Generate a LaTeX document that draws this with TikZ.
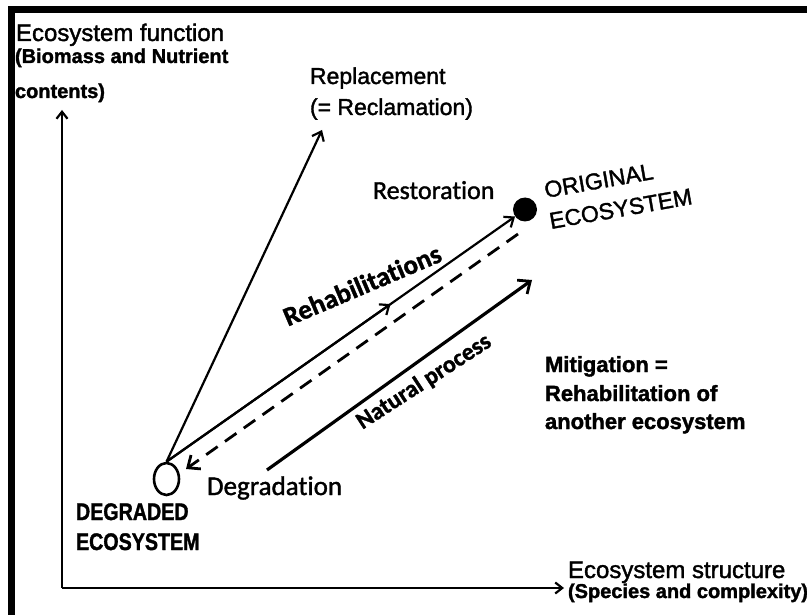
\documentclass[tikz,border=0pt]{standalone}
\usepackage{fontspec}
\setmainfont{Liberation Sans}[FakeBold=1.6]
\newfontfamily\calibrifont{Carlito}[FakeBold=1.4, Ligatures=NoCommon]
\newfontfamily\narrowfont{Liberation Sans}[FakeStretch=0.82, FakeBold=1.4]
\usetikzlibrary{arrows.meta,shapes.geometric,calc}

\newcommand{\fsz}[1]{\fontsize{#1}{#1}\selectfont}

\tikzset{
  lbl/.style={inner sep=0pt, outer sep=0pt, text=black},
  axisline/.style={line width=2.6pt, -{Straight Barb[length=7pt,width=11pt,line width=2.2pt]}},
  thinarrow/.style={line width=2.2pt, -{Straight Barb[length=8pt,width=13pt,line width=2.2pt]}},
  thickarrow/.style={line width=3.2pt, -{Straight Barb[length=10pt,width=17pt,line width=2.8pt]}},
  dasharrow/.style={line width=2.8pt, dash pattern=on 14pt off 9pt,
    -{Straight Barb[length=10pt,width=17pt,line width=2.8pt]}},
  stateopen/.style={ellipse, draw, line width=2.6pt, inner sep=0pt,
    minimum width=25pt, minimum height=32pt},
  statefull/.style={circle, fill=black, inner sep=0pt, minimum size=24pt},
}

\begin{document}
\begin{tikzpicture}[x=1pt,y=-1pt]
\useasboundingbox (0,0) rectangle (807,615);

% frame
\draw[line width=7pt, line join=miter] (11.5,620) -- (11.5,9.5) -- (812,9.5);

% axes
\coordinate (origin) at (62,588);
\coordinate (ytip) at (62,110);
\coordinate (xtip) at (564,588);
\draw[axisline] (origin) -- (ytip);
\draw[axisline] (origin) -- (xtip);

% axis titles
\node[lbl, anchor=base west, font=\fsz{24}] (ytitle) at (16,41) {Ecosystem function};
\node[lbl, anchor=base west, font=\bfseries\fsz{20}] (ysub1) at (15,63) {(Biomass and Nutrient};
\node[lbl, anchor=base west, font=\bfseries\fsz{20}] (ysub2) at (15,98) {contents)};
\node[lbl, anchor=base west, font=\fsz{24}] (xtitle) at (568,578) {Ecosystem structure};
\node[lbl, anchor=base west, font=\bfseries\fsz{20}] (xsub) at (568,598) {(Species and complexity)};

% states
\node[stateopen] (deg) at (166.5,479) {};
\node[statefull] (orig) at (525,209.5) {};

\node[lbl, anchor=base west, font=\narrowfont\bfseries\fsz{24}] (degl1) at (76,520) {DEGRADED};
\node[lbl, anchor=base west, font=\narrowfont\bfseries\fsz{24}] (degl2) at (76,550) {ECOSYSTEM};

\node[lbl, anchor=base west, rotate=10, font=\fsz{23}] (origl1) at (546,198) {ORIGINAL};
\node[lbl, anchor=base west, rotate=10, font=\fsz{23}] (origl2) at (551,229) {ECOSYSTEM};

% pathways
\coordinate (repltip) at (322,130);
\coordinate (dashstart) at (518,234);
\coordinate (dashtip) at (186,469);
\coordinate (natstart) at (267,470);
\coordinate (nattip) at (532,280);

\draw[thinarrow] (deg.north) -- (repltip);
\draw[thinarrow] (deg.north) -- (orig);
\draw[thinarrow] (deg.north) -- ($(deg.north)!0.625!(orig.center)$);
\draw[dasharrow] (dashstart) -- (dashtip);
\draw[thickarrow] (natstart) -- (nattip);

% pathway labels
\node[lbl, anchor=base west, font=\fsz{23}] (repl1) at (310,84) {Replacement};
\node[lbl, anchor=base west, font=\fsz{23}] (repl2) at (310,115) {(= Reclamation)};
\node[lbl, anchor=base west, font=\calibrifont\fsz{26}] (resto) at (373,199) {Restoration};
\node[lbl, rotate=23, font=\calibrifont\bfseries\fsz{27}] (rehab) at (362,285) {Rehabilitations};
\node[lbl, rotate=33, font=\calibrifont\bfseries\fsz{24}] (natural) at (424,382) {Natural process};
\node[lbl, anchor=base west, font=\calibrifont\fsz{27}] (degr) at (207,495) {Degradation};

\node[lbl, anchor=base west, font=\bfseries\fsz{22}] (miti1) at (545,372) {Mitigation =};
\node[lbl, anchor=base west, font=\bfseries\fsz{22}] (miti2) at (545,401) {Rehabilitation of};
\node[lbl, anchor=base west, font=\bfseries\fsz{22}] (miti3) at (545,429) {another ecosystem};
\end{tikzpicture}
\end{document}
